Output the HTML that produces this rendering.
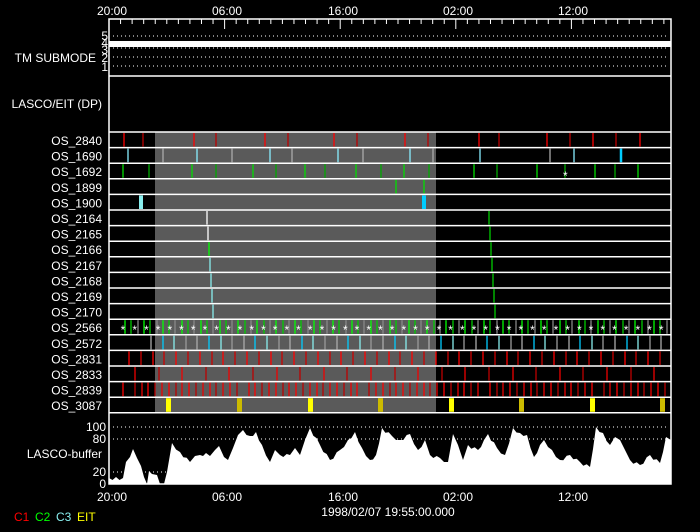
<!DOCTYPE html>
<html><head><meta charset="utf-8"><style>
html,body{margin:0;padding:0;background:#000;width:700px;height:532px;overflow:hidden}
svg{display:block}
text{font-family:"Liberation Sans",sans-serif;font-size:12px;fill:#fff}
</style></head><body>
<svg id="s" width="700" height="532" xmlns="http://www.w3.org/2000/svg">
<rect width="700" height="532" fill="#000"/>
<rect x="155" y="132" width="281" height="281" fill="#5a5a5a"/>
<g id="g"></g>
<g text-anchor="middle">
<text x="112" y="15">20:00</text><text x="227" y="15">06:00</text><text x="343" y="15">16:00</text><text x="458" y="15">02:00</text><text x="573" y="15">12:00</text>
<text x="112" y="501">20:00</text><text x="227" y="501">06:00</text><text x="343" y="501">16:00</text><text x="458" y="501">02:00</text><text x="573" y="501">12:00</text>
<text x="388" y="516">1998/02/07 19:55:00.000</text>
</g>
<g text-anchor="end">
<text x="96" y="62">TM SUBMODE</text>
<text x="102" y="108">LASCO/EIT (DP)</text>
<text x="102" y="458">LASCO-buffer</text>
<text x="106" y="431" font-size="11">100</text><text x="106" y="443" font-size="11">80</text>
<text x="106" y="476" font-size="11">20</text><text x="106" y="488" font-size="11">0</text>
<text x="108" y="40" font-size="10">5</text><text x="108" y="47" font-size="10">4</text><text x="108" y="54" font-size="10">3</text><text x="108" y="62" font-size="10">2</text><text x="108" y="71" font-size="10">1</text>
</g>
<g id="lab" text-anchor="end"></g>
<text x="14" y="521" font-size="9" style="fill:#f00">C1</text>
<text x="35" y="521" font-size="9" style="fill:#0f0">C2</text>
<text x="56" y="521" font-size="9" style="fill:#8ee">C3</text>
<text x="77" y="521" font-size="9" style="fill:#ff0">EIT</text>
</svg>
<script>
var g=document.getElementById('g'),h='';
function L(x1,y1,x2,y2,c,w,d){h+='<line x1="'+x1+'" y1="'+y1+'" x2="'+x2+'" y2="'+y2+'" stroke="'+c+'" stroke-width="'+(w||1)+'"'+(d?' stroke-dasharray="'+d+'"':'')+'/>';}
function R(x,y,w,hh,c){h+='<rect x="'+x+'" y="'+y+'" width="'+w+'" height="'+hh+'" fill="'+c+'"/>';}
var X0=109,X1=671,pph=11.56;
for(var i=0;i<49;i++){var x=X0+i*pph;if(x>X1)break;var maj=(i%10==0);L(x,19,x,maj?29:24,'#fff',1);}
[36,48,57,66].forEach(function(y){L(X0+4,y,X1-4,y,'#fff',1,'1 3');});
R(X0,41,X1-X0,6,'#fff');
L(X0,76,X1,76,'#fff',1.5);
var rows=['OS_2840','OS_1690','OS_1692','OS_1899','OS_1900','OS_2164','OS_2165','OS_2166','OS_2167','OS_2168','OS_2169','OS_2170','OS_2566','OS_2572','OS_2831','OS_2833','OS_2839','OS_3087'];
var dy=15.6,Y0=132;
var lh='';rows.forEach(function(n,i){lh+='<text x="102" y="'+(Y0+i*dy+13).toFixed(1)+'">'+n+'</text>';});
document.getElementById('lab').innerHTML=lh;
function ev(r,xs,c,w){xs.forEach(function(x,i){var cc=Array.isArray(c)?c[i%c.length]:c;L(x,Y0+r*dy+1,x,Y0+(r+1)*dy-1,cc,w||1.3);});}
var RD=['#f00','#b00'];
ev(0,[124,143,194,216,265,288,334,357,405,428,479,499,547,570,593,616,640],RD);
ev(1,[128,163,197,232,270,292,338,363,410,433,480,550,574],['#8ef','#aaa']);ev(1,[621],'#0cf',2.5);
ev(2,[123,149,192,216,253,276,305,325,356,381,404,429,474,497,537,565,595,615,638],['#0d0','#0a0']);
ev(3,[396,424],'#0d0');
R(139,Y0+4*dy+1,4,dy-2,'#8ee');R(422,Y0+4*dy+1,4,dy-2,'#0cf');
h+='<text x="563" y="180" font-size="10" style="fill:#fff">*</text>';
var lc=['#fff','#fff','#0f0','#8ee','#8ee','#8ee','#8ee'];
for(var r=5;r<=11;r++){var k=r-5;L(207+k,Y0+r*dy+1,207+k,Y0+(r+1)*dy-1,lc[k],1.3);L(489+k,Y0+r*dy+1,489+k,Y0+(r+1)*dy-1,'#0c0',1.3);}
var a=[];for(var x=125;x<670;x+=6.3)a.push(Math.round(x));ev(12,a,['#0f0','#0c0','#888']);
for(var x=123;x<670;x+=11.7)h+='<text x="'+x.toFixed(1)+'" y="'+(Y0+13*dy-1)+'" font-size="9" text-anchor="middle" style="fill:#fff">*</text>';
a=[];for(var x=151;x<670;x+=11.6)a.push(Math.round(x));ev(13,a,['#aaa','#0cf','#8ee','#999']);
a=[];for(var x=129;x<670;x+=11.8)a.push(Math.round(x));ev(14,a,['#f00','#c00']);
a=[];for(var x=135;x<670;x+=23.6)a.push(Math.round(x));ev(15,a,['#e00','#b00']);
a=[];for(var x=125;x<670;x+=7.1)a.push(Math.round(x+((x*7)%5)-2));ev(16,a,['#f00','#b00','#e00']);
[168,239,310,380,451,521,592,662].forEach(function(x,i){R(x-2,Y0+17*dy+1,5,dy-2,i%2?'#cb0':'#ff0');});
for(var r=0;r<=18;r++)L(X0,Y0+r*dy,X1,Y0+r*dy,'#fff',1.5);
[427,439,472].forEach(function(y){L(X0+4,y,X1-4,y,'#fff',1,'1 3');});
var p=[[109,478],[123,478],[126,462],[130,457],[133,449],[137,458],[141,466],[147,484],[149,471],[152,474],[157,475],[160,484],[164,484],[167,472],[172,443],[180,452],[190,462],[195,456],[200,455],[206,453],[210,456],[215,450],[219,446],[224,457],[228,460],[233,448],[238,435],[243,430],[250,436],[256,432],[262,445],[270,462],[275,450],[280,455],[290,455],[295,448],[300,455],[305,440],[310,428],[320,445],[330,460],[340,450],[348,440],[355,432],[362,448],[370,460],[376,455],[382,428],[392,436],[400,440],[410,434],[418,450],[425,440],[430,455],[440,458],[448,462],[453,434],[458,445],[463,460],[468,445],[478,450],[484,440],[488,434],[497,448],[505,455],[513,428],[520,433],[527,435],[534,457],[540,445],[544,440],[552,450],[560,460],[570,455],[580,462],[590,467],[596,427],[603,433],[610,445],[615,437],[620,440],[625,450],[630,460],[640,465],[650,455],[660,463],[666,437],[671,440],[671,484],[109,484]];
var pp=[];for(var i=0;i<p.length-3;i++){var A=p[i],B=p[i+1];pp.push(A);var n=Math.floor((B[0]-A[0])/3);for(var j=1;j<n;j++){var t=j/n;pp.push([A[0]+(B[0]-A[0])*t,A[1]+(B[1]-A[1])*t+((j%2)?2:-1)]);}}
pp.push(p[p.length-3],p[p.length-2],p[p.length-1]);
h+='<polygon fill="#fff" points="'+pp.map(function(q){return q[0].toFixed(1)+','+q[1].toFixed(1)}).join(' ')+'"/>';
h+='<rect x="'+X0+'" y="19" width="'+(X1-X0)+'" height="465" fill="none" stroke="#fff" stroke-width="1.5"/>';
g.innerHTML=h;
</script>
</body></html>
